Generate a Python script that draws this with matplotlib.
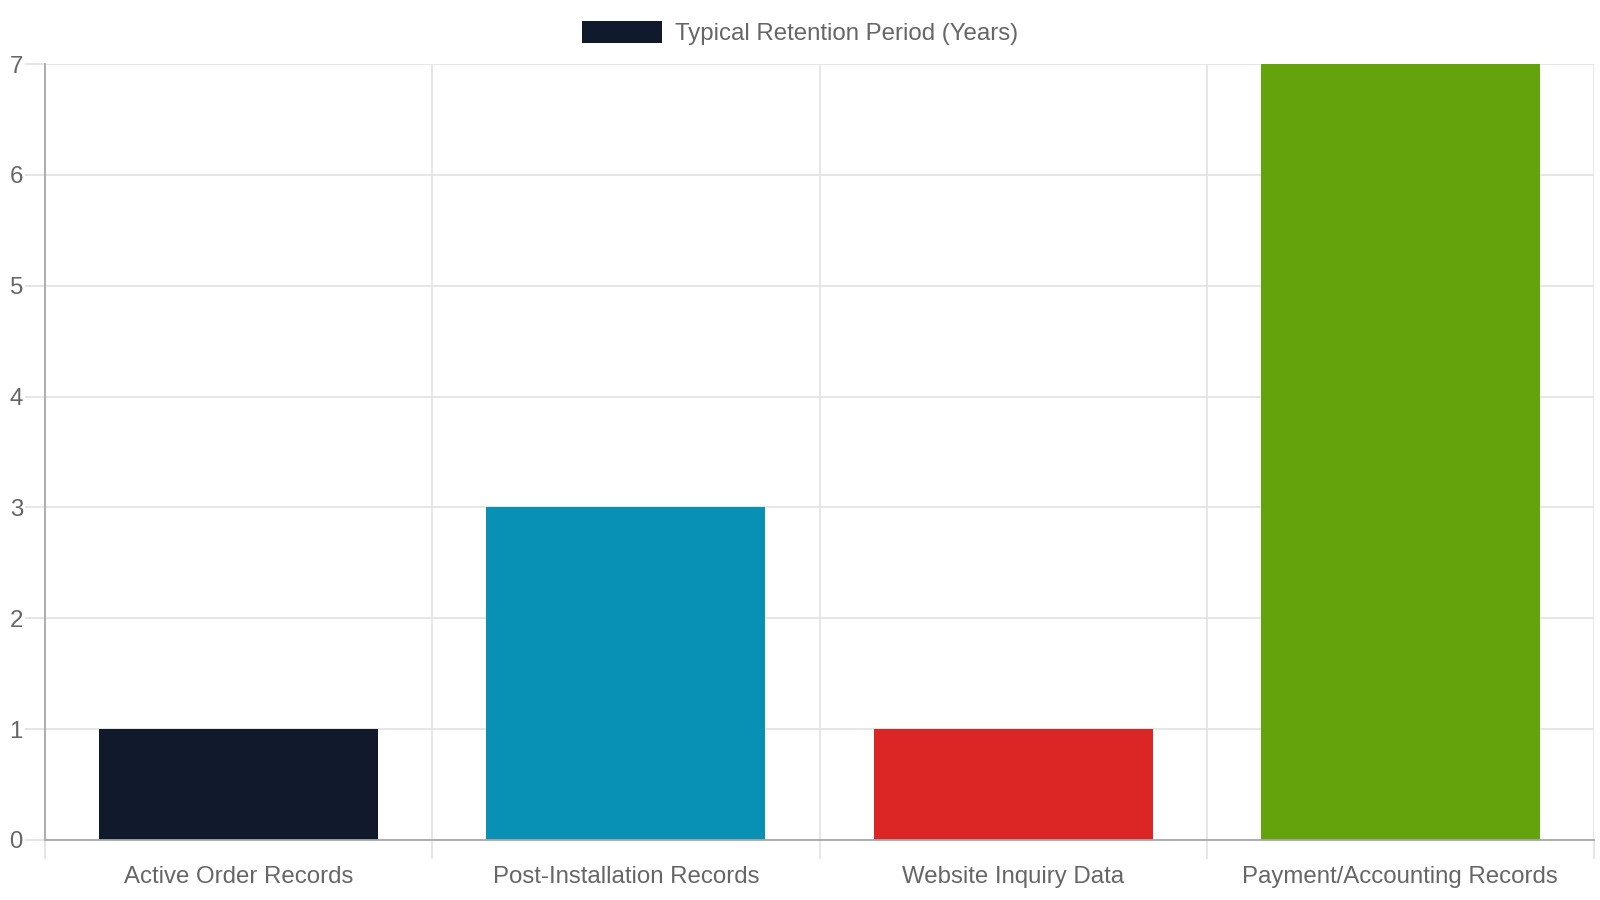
import matplotlib
matplotlib.use("Agg")
from matplotlib import pyplot as plt
from matplotlib.patches import Patch
import numpy as np

plt.rcParams['font.family'] = ['Liberation Sans', 'DejaVu Sans']

categories = ["Active Order Records", "Post-Installation Records",
              "Website Inquiry Data", "Payment/Accounting Records"]
years = [1, 3, 1, 7]
bar_colors = ["#111a2c", "#0891b4", "#dc2626", "#65a30d"]
series_label = "Typical Retention Period (Years)"
y_ticks = [0, 1, 2, 3, 4, 5, 6, 7]

text_color = "#666666"
grid_color = "#e4e4e4"
axis_color = "#a8a8a8"

fig = plt.figure(figsize=(16, 9), dpi=100)
ax = fig.add_axes([45 / 1600, 1 - 840 / 900, 1549 / 1600, 776 / 900])

x = np.arange(len(categories))
ax.bar(x, years, width=0.72, color=bar_colors, zorder=3)

ax.set_xlim(-0.5, len(categories) - 0.5)
ax.set_ylim(0, 7)

# category labels at centers, grid lines at category boundaries
ax.set_xticks(x)
ax.set_xticklabels(categories)
ax.tick_params(axis='x', which='major', length=0, pad=19, labelsize=17.3, labelcolor=text_color)
ax.set_xticks(np.arange(len(categories) + 1) - 0.5, minor=True)
ax.tick_params(axis='x', which='minor', length=14, width=1.3, color=grid_color)
ax.grid(axis='x', which='minor', color=grid_color, lw=1.3, zorder=0)

ax.set_yticks(y_ticks)
ax.tick_params(axis='y', length=14.4, width=1.3, color=grid_color, pad=1.5,
               labelsize=17.3, labelcolor=text_color)
ax.grid(axis='y', which='major', color=grid_color, lw=1.3, zorder=0)

for side in ['top', 'right']:
    ax.spines[side].set_visible(False)
for side in ['left', 'bottom']:
    ax.spines[side].set_color(axis_color)
    ax.spines[side].set_linewidth(1.3)
    ax.spines[side].set_zorder(4)

handle = Patch(facecolor=bar_colors[0], edgecolor="none")
fig.legend([handle], [series_label], loc='center', bbox_to_anchor=(0.5, 1 - 33 / 900),
           frameon=False, fontsize=17.3, labelcolor=text_color,
           handlelength=3.35, handleheight=1.0, handletextpad=0.55)

fig.savefig("out.png", dpi=100)
